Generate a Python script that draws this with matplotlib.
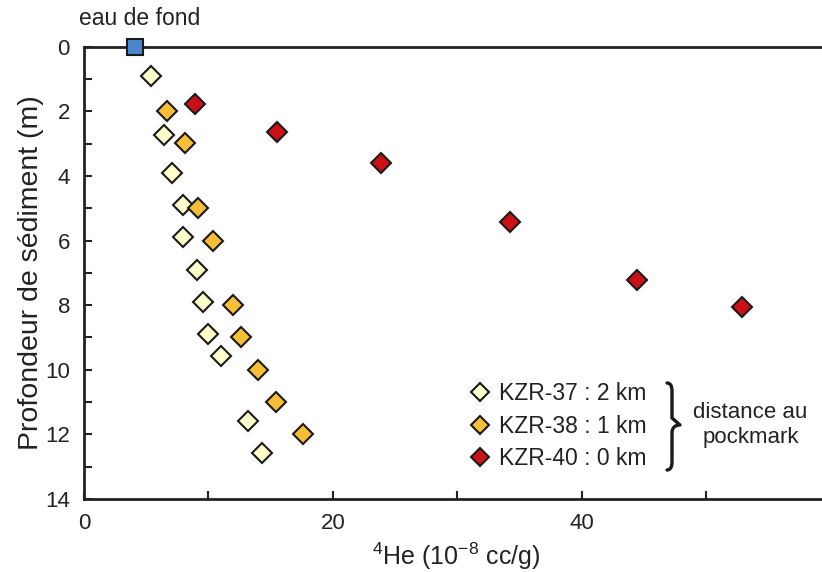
import numpy as np
import matplotlib
matplotlib.use('Agg')
from matplotlib import pyplot as plt
from matplotlib.lines import Line2D
from matplotlib.path import Path
from matplotlib.patches import PathPatch

plt.rcParams['font.family'] = ['Liberation Sans', 'DejaVu Sans']
plt.rcParams['mathtext.fontset'] = 'custom'
plt.rcParams['mathtext.rm'] = 'Liberation Sans'

# bottom water
he_fond = [4.1]
z_fond = [0.0]

# KZR-37 : 2 km
he_37 = [5.4, 6.4, 7.1, 8.0, 8.0, 9.1, 9.6, 10.0, 11.0, 13.2, 14.3]
z_37 = [0.9, 2.72, 3.9, 4.9, 5.88, 6.9, 7.9, 8.9, 9.57, 11.6, 12.57]

# KZR-38 : 1 km
he_38 = [6.7, 8.1, 9.2, 10.4, 12.0, 12.6, 14.0, 15.4, 17.6]
z_38 = [1.98, 2.97, 4.98, 6.0, 7.99, 8.98, 10.0, 10.99, 11.98]

# KZR-40 : 0 km
he_40 = [8.9, 15.5, 23.9, 34.2, 44.4, 52.9]
z_40 = [1.76, 2.63, 3.59, 5.42, 7.21, 8.05]

labels = ['KZR-37 : 2 km', 'KZR-38 : 1 km', 'KZR-40 : 0 km']
colors = ['#FFFFCC', '#F8BE38', '#CC1018']

W, H = 822, 572
fig = plt.figure(figsize=(W / 100, H / 100), dpi=100)
ax = fig.add_axes([0.102, 0.128, 0.898, 0.790])

ms = 10
for he, z, c in zip([he_37, he_38, he_40], [z_37, z_38, z_40], colors):
    ax.plot(he, z, 'D', ms=ms, mfc=c, mec='#1a1a1a', mew=1.5, clip_on=False, zorder=3)
ax.plot(he_fond, z_fond, 's', ms=11, mfc='#4A86CF', mec='#1a1a1a', mew=1.5, clip_on=False, zorder=4)

ax.set_xlim(0, 59.3)
ax.set_ylim(14, 0)
ax.set_xticks([0, 20, 40])
ax.set_xticks([10, 30, 50], minor=True)
ax.set_yticks(np.arange(0, 15, 2))
ax.set_yticks(np.arange(1, 14, 2), minor=True)
ax.tick_params(which='both', direction='in', length=6, width=1.5, labelsize=16, colors='#222222')
ax.tick_params(axis='x', which='major', pad=10)
ax.tick_params(axis='y', which='major', pad=10)
ax.spines['right'].set_visible(False)
for s in ['left', 'bottom', 'top']:
    ax.spines[s].set_linewidth(2)
    ax.spines[s].set_color('#222222')

ax.set_xlabel(r'$^{4}$He (10$^{\mathrm{-8}}$ cc/g)', fontsize=18, color='#222222')
ax.xaxis.set_label_coords(0.505, -0.092)
ax.set_ylabel('Profondeur de sédiment (m)', fontsize=20.5, labelpad=1, color='#222222')

fig.text(0.170, 0.968, 'eau de fond', fontsize=16.5, ha='center', va='center', color='#222222')

handles = [Line2D([], [], ls='none', marker='D', ms=9, mfc=c, mec='#1a1a1a', mew=1.5) for c in colors]
leg = fig.legend(handles, labels, loc='center left', bbox_to_anchor=(0.556, 0.255),
                 frameon=False, fontsize=16.5, handletextpad=0.35, labelspacing=0.4,
                 handlelength=1.0, borderpad=0)
for t in leg.get_texts():
    t.set_color('#222222')

# curly brace, drawn in pixel coordinates of the figure
bx = [667, 672, 672, 672, 672, 680, 672, 672, 672, 672, 672, 667]
by = [383, 383, 391, 418, 418, 425, 425, 433, 460, 462, 470, 470]
pts = [(x / W, 1 - y / H) for x, y in zip(bx, by)]
codes = [Path.MOVETO, Path.CURVE3, Path.CURVE3, Path.LINETO,
         Path.CURVE3, Path.CURVE3, Path.CURVE3, Path.CURVE3,
         Path.LINETO, Path.LINETO, Path.CURVE3, Path.CURVE3]
brace = PathPatch(Path(pts, codes), transform=fig.transFigure, fill=False,
                  lw=2.4, ec='#1a1a1a', capstyle='round', joinstyle='round')
fig.patches.append(brace)

fig.text(0.913, 0.257, 'distance au\npockmark', fontsize=16, ha='center', va='center',
         linespacing=1.3, color='#222222')

fig.savefig('out.png', dpi=100)
